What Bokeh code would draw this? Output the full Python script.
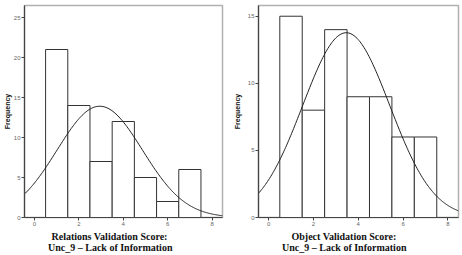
import math
from bokeh.plotting import figure
from bokeh.layouts import row
from bokeh.models import Range1d, Title, FixedTicker
from bokeh.embed import file_html
from bokeh.resources import INLINE

scores = [1, 2, 3, 4, 5, 6, 7]
relations_counts = [21, 14, 7, 12, 5, 2, 6]
object_counts = [15, 8, 14, 9, 9, 6, 6]
x_ticks = [0, 2, 4, 6, 8]
rel_y_ticks = [0, 5, 10, 15, 20, 25]
obj_y_ticks = [0, 5, 10, 15]
rel_title = ["Relations Validation Score:", "Unc_9 \u2013 Lack of Information"]
obj_title = ["Object Validation Score:", "Unc_9 \u2013 Lack of Information"]


def normal_curve(counts, x0, x1, n=200):
    N = sum(counts)
    mean = sum(s * c for s, c in zip(scores, counts)) / N
    var = sum(c * (s - mean) ** 2 for s, c in zip(scores, counts)) / (N - 1)
    sd = math.sqrt(var)
    xs = [x0 + (x1 - x0) * i / (n - 1) for i in range(n)]
    ys = [N / (sd * math.sqrt(2 * math.pi)) * math.exp(-0.5 * ((x - mean) / sd) ** 2) for x in xs]
    return xs, ys


def make(counts, y_ticks, ymax, title, width, bl, br, ylab_standoff, title_offsets):
    p = figure(width=width, height=255, output_backend="svg", toolbar_location=None,
               x_range=Range1d(-0.45, 8.47), y_range=Range1d(0, ymax),
               min_border_left=bl, min_border_right=br, min_border_top=5, min_border_bottom=0)
    p.background_fill_color = "white"
    p.border_fill_color = "white"
    p.outline_line_color = "#b0b0b0"
    p.outline_line_width = 1.5
    p.grid.visible = False
    p.quad(left=[s - 0.5 for s in scores], right=[s + 0.5 for s in scores],
           bottom=0, top=counts, fill_color="white", line_color="#333333", line_width=1)
    xs, ys = normal_curve(counts, -0.45, 8.47)
    p.line(xs, ys, line_color="#222222", line_width=1)
    for ax in (p.xaxis[0], p.yaxis[0]):
        ax.axis_line_color = "#444444"
        ax.axis_line_width = 1.2
        ax.major_tick_line_color = "#444444"
        ax.major_tick_out = 3
        ax.major_tick_in = 0
        ax.minor_tick_line_color = None
        ax.major_label_text_font = "Liberation Sans"
        ax.major_label_text_font_size = "6px"
        ax.major_label_text_color = "#666666"
        ax.major_label_standoff = 1
    p.xaxis[0].ticker = FixedTicker(ticks=x_ticks)
    p.yaxis[0].ticker = FixedTicker(ticks=y_ticks)
    p.yaxis[0].axis_label = "Frequency"
    p.yaxis[0].axis_label_text_font = "Liberation Sans"
    p.yaxis[0].axis_label_text_font_style = "bold"
    p.yaxis[0].axis_label_text_font_size = "7px"
    p.yaxis[0].axis_label_text_color = "#111111"
    p.yaxis[0].axis_label_standoff = ylab_standoff
    p.add_layout(Title(text=title[0], align="left", offset=title_offsets[0],
                       vertical_align="bottom",
                       text_font="Liberation Serif", text_font_style="bold",
                       text_font_size="10px", text_color="#111111",
                       standoff=0), "below")
    p.add_layout(Title(text=title[1], align="left", offset=title_offsets[1],
                       vertical_align="top",
                       text_font="Liberation Serif", text_font_style="bold",
                       text_font_size="10px", text_color="#111111",
                       standoff=1), "below")
    return p


p1 = make(relations_counts, rel_y_ticks, 26.5, rel_title, 230, 21, 8, 0, (27, 23.5))
p2 = make(object_counts, obj_y_ticks, 15.8, obj_title, 232, 27, 4, 4, (33, 23.5))

layout = row(p1, p2)
open("out.html", "w").write(file_html(layout, INLINE))
